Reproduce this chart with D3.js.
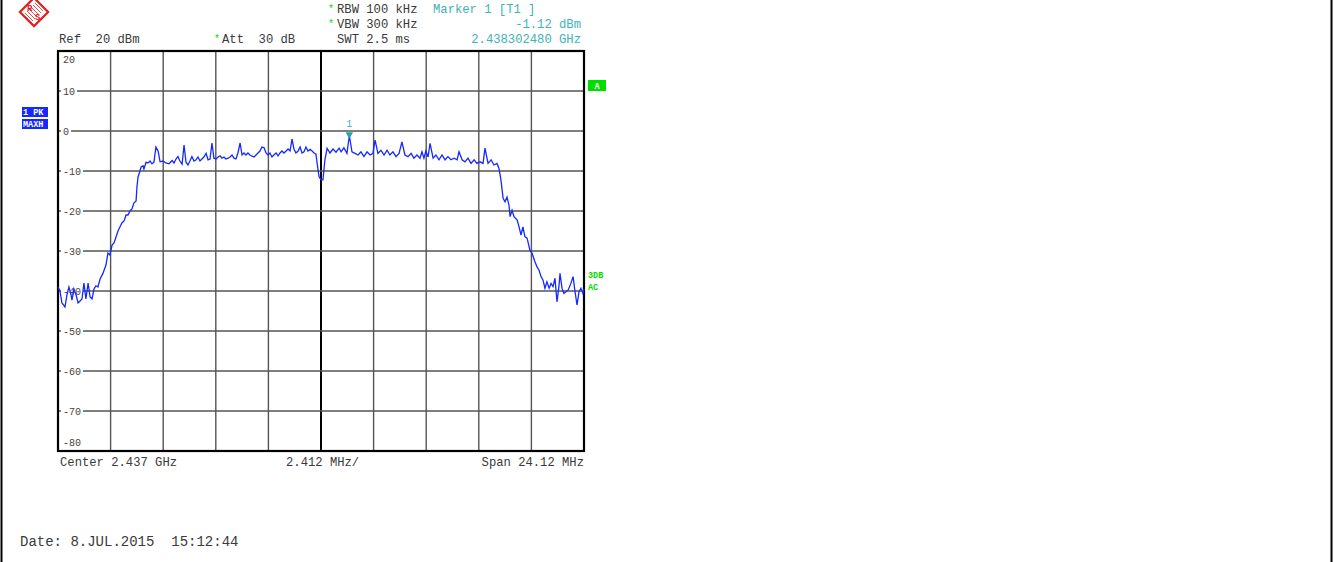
<!DOCTYPE html>
<html><head><meta charset="utf-8">
<script src="https://cdn.jsdelivr.net/npm/d3@7"></script>
<style>
html,body{margin:0;padding:0;background:#fff;}
svg text{font-family:"Liberation Mono","DejaVu Sans Mono",monospace;}
</style></head>
<body>
<svg id="chart" width="1335" height="562"></svg>
<script>
// ---- data ----
const centerGHz = 2.437;
const spanMHz = 24.12;
const divMHz = 2.412;
const levelTicks = [20, 10, 0, -10, -20, -30, -40, -50, -60, -70, -80];
const freqOffsetMHz = [
-12.06,-11.97,-11.88,-11.74,-11.65,-11.56,-11.46,-11.42,-11.33,-11.23,-11.14,-11.05,-10.96,-10.87,-10.78,-10.68,-10.59,-10.50,-10.41,-10.32,-10.23,-10.13,-10.00,-9.86,-9.77,-9.68,-9.58,-9.49,-9.40,-9.31,-9.22,-9.13,-9.03,-8.94,-8.85,-8.76,-8.67,-8.58,-8.48,-8.44,-8.39,-8.30,-8.25,-8.16,-8.12,-8.02,-7.93,-7.84,-7.75,-7.66,-7.57,-7.47,-7.38,-7.25,-7.11,-6.97,-6.83,-6.74,-6.65,-6.56,-6.47,-6.37,-6.28,-6.19,-6.10,-6.01,-5.92,-5.82,-5.73,-5.64,-5.55,-5.46,-5.37,-5.27,-5.18,-5.09,-5.00,-4.91,-4.81,-4.72,-4.63,-4.54,-4.45,-4.36,-4.26,-4.17,-4.08,-3.99,-3.90,-3.81,-3.71,-3.62,-3.53,-3.44,-3.35,-3.26,-3.16,-3.07,-2.98,-2.89,-2.80,-2.71,-2.61,-2.52,-2.43,-2.34,-2.25,-2.16,-2.06,-1.97,-1.88,-1.79,-1.70,-1.60,-1.51,-1.42,-1.33,-1.24,-1.15,-1.05,-0.96,-0.87,-0.78,-0.69,-0.60,-0.50,-0.41,-0.32,-0.23,-0.18,-0.09,0.00,0.09,0.18,0.28,0.41,0.55,0.69,0.83,0.92,1.05,1.19,1.30,1.42,1.56,1.70,1.83,1.97,2.11,2.25,2.38,2.48,2.61,2.75,2.89,3.03,3.16,3.30,3.44,3.58,3.71,3.85,3.99,4.13,4.26,4.40,4.54,4.63,4.72,4.81,4.91,5.00,5.14,5.27,5.41,5.55,5.69,5.82,5.96,6.10,6.24,6.33,6.47,6.60,6.74,6.88,7.02,7.15,7.29,7.43,7.52,7.66,7.80,7.93,8.07,8.16,8.25,8.35,8.44,8.53,8.62,8.67,8.76,8.85,8.99,9.08,9.17,9.26,9.35,9.45,9.58,9.68,9.81,9.90,10.00,10.09,10.18,10.27,10.36,10.46,10.55,10.64,10.73,10.82,10.91,10.96,11.05,11.14,11.23,11.33,11.46,11.56,11.65,11.74,11.83,11.92,12.01,12.06
];
const levelDbm = [
-39,-40,-43,-44,-41,-39,-41,-42.3,-39.5,-41,-43,-42.5,-42,-38,-42,-38,-41.5,-42,-39.5,-38.7,-39,-37,-35.6,-33.5,-30.5,-31,-28.5,-28,-26.5,-25,-24,-23,-22.5,-21,-21,-20,-19.5,-18,-17.5,-14,-11.5,-10,-9,-8.7,-9.5,-7.8,-8,-7.5,-8.2,-7.8,-4,-5,-7.7,-7.5,-8,-8.2,-7.4,-8,-7,-6.4,-7.5,-8.3,-3.5,-7.8,-8.5,-7.5,-6.4,-7.5,-7.2,-6.5,-7.5,-7,-6.5,-5.6,-7.2,-7,-3,-6.8,-7,-6.5,-6.2,-6.8,-6.5,-7,-6.8,-6.5,-6,-6.8,-7,-5.5,-3,-6,-5.5,-6,-5.5,-6,-6.3,-6.5,-6,-5.5,-5,-4,-4.2,-5.5,-6,-5.5,-6.5,-6,-5.5,-6.2,-5.5,-5,-5.5,-5,-4.5,-5,-2,-4.5,-5.5,-5,-4,-5.5,-5.2,-4,-5,-4.6,-5,-5.5,-5.8,-8,-11.4,-12.2,-12.2,-7.2,-4.3,-5.5,-4.5,-5.3,-4.3,-5.2,-4.2,-5.6,-1.12,-5.2,-5.6,-6,-5.2,-6.4,-5.2,-6,-5.6,-2.3,-5.6,-4.8,-6,-4.8,-6,-5.2,-6.4,-5.6,-2.7,-6,-6.4,-5.6,-6.8,-6,-6.8,-5.2,-6.8,-5,-6.5,-3.1,-6.8,-6,-7.2,-6,-7.2,-6.4,-7.2,-6.8,-7.2,-5.2,-7.2,-7.7,-6.8,-8.1,-7.2,-8.1,-7.7,-8.1,-4.3,-8.1,-7.2,-8.5,-8.1,-9.3,-12.2,-16.8,-17.7,-16.5,-18.5,-21.4,-19.8,-21.4,-22.2,-23.9,-26,-24,-26.4,-26.8,-29.8,-30.6,-32.7,-33.9,-34.8,-36.4,-37.3,-39.3,-37.7,-39.3,-38.1,-38.9,-36.8,-42.7,-38.9,-35.6,-39.3,-40.6,-40.2,-39.8,-38.1,-36.4,-40.2,-43.5,-40.2,-39.3,-40.6,-39.5
];
const markerFreqOffsetMHz = 1.30;
const markerLevel = -1.12;
const headerLines = [
  ["RBW 100 kHz", "VBW 300 kHz", "SWT 2.5 ms"],
  ["Marker 1 [T1 ]", "-1.12 dBm", "2.438302480 GHz"]
];

// ---- layout ----
const svg = d3.select("#chart");
const L = 58, R = 584, T = 51, B = 451;
const x = d3.scaleLinear().domain([-spanMHz/2, spanMHz/2]).range([L, R]);
const y = d3.scaleLinear().domain([-80, 20]).range([B, T]);
const gray = "#3a3a3a", teal = "#3cb4b4", green = "#00dd00";
const FS = 12.2;

// page frame lines
svg.append("line").attr("x1",1.5).attr("x2",1.5).attr("y1",0).attr("y2",562).attr("stroke","#000").attr("stroke-width",2);
svg.append("line").attr("x1",1331.5).attr("x2",1331.5).attr("y1",0).attr("y2",562).attr("stroke","#000").attr("stroke-width",2);

// grid
const vTicks = d3.range(0, 11).map(k => -spanMHz/2 + k*divMHz);
svg.append("g").selectAll("line").data(vTicks).join("line")
  .attr("x1", d => x(d)).attr("x2", d => x(d)).attr("y1", T).attr("y2", B)
  .attr("stroke", (d,i) => i === 5 ? "#000" : "#555")
  .attr("stroke-width", (d,i) => i === 5 ? 2 : 1.4);
svg.append("g").selectAll("line").data(levelTicks).join("line")
  .attr("x1", L).attr("x2", R).attr("y1", d => y(d)).attr("y2", d => y(d))
  .attr("stroke", "#555").attr("stroke-width", 1.4);

// level labels
const lab = svg.append("g");
levelTicks.forEach(v => {
  let yy = y(v) + 3.5;
  if (v === 20) yy = y(v) + 12;
  if (v === -80) yy = y(v) - 5;
  const t = lab.append("text").attr("x", 63).attr("y", yy)
    .attr("font-size", 10).attr("fill", "#444").text(v);
  if (v !== 20 && v !== -80) {
    const bb = t.node().getBBox();
    lab.insert("rect", "text").attr("x", bb.x - 2).attr("y", bb.y + 1).attr("width", bb.width + 4)
      .attr("height", bb.height - 2).attr("fill", "#fff");
  }
});

// plot frame
svg.append("rect").attr("x", L).attr("y", T).attr("width", R - L).attr("height", B - T)
  .attr("fill", "none").attr("stroke", "#000").attr("stroke-width", 2.2);

// trace
const pts = freqOffsetMHz.map((f, i) => [f, levelDbm[i]]);
svg.append("path").datum(pts)
  .attr("d", d3.line().x(d => x(d[0])).y(d => y(d[1])))
  .attr("fill", "none").attr("stroke", "#1428ff").attr("stroke-width", 1.3);

// marker
const mx = x(markerFreqOffsetMHz), my = y(markerLevel);
svg.append("path").attr("d", d3.symbol().type(d3.symbolTriangle).size(24)())
  .attr("transform", `translate(${mx},${my - 1}) rotate(180)`).attr("fill", "#20a8a8");
svg.append("text").attr("x", mx).attr("y", my - 8).attr("text-anchor", "middle")
  .attr("font-size", 10).attr("fill", teal).text("1");

// header
const hdr = svg.append("g").attr("font-size", FS);
hdr.append("text").attr("x", 59).attr("y", 43).attr("fill", gray).attr("xml:space","preserve").text("Ref  20 dBm");
hdr.append("text").attr("x", 214).attr("y", 42).attr("fill", green).attr("font-size", 10).text("*");
hdr.append("text").attr("x", 222).attr("y", 43).attr("fill", gray).attr("xml:space","preserve").text("Att  30 dB");
headerLines[0].forEach((s, i) => {
  if (i < 2) hdr.append("text").attr("x", 328).attr("y", 12 + i*15).attr("fill", green).attr("font-size", 10).text("*");
  hdr.append("text").attr("x", 337).attr("y", 13 + i*15).attr("fill", gray).text(s);
});
hdr.append("text").attr("x", 433).attr("y", 13).attr("fill", teal).text(headerLines[1][0]);
hdr.append("text").attr("x", 581).attr("y", 28).attr("text-anchor", "end").attr("fill", teal).text(headerLines[1][1]);
hdr.append("text").attr("x", 581).attr("y", 43).attr("text-anchor", "end").attr("fill", teal).text(headerLines[1][2]);

// left trace badges
const badge = svg.append("g").attr("font-size", 8.5).attr("font-weight", "bold");
badge.append("rect").attr("x", 22).attr("y", 107).attr("width", 26).attr("height", 10).attr("fill", "#1428ff");
badge.append("rect").attr("x", 22).attr("y", 119).attr("width", 26).attr("height", 10).attr("fill", "#1428ff");
badge.append("text").attr("x", 23).attr("y", 115).attr("fill", "#fff").attr("xml:space","preserve").text("1 PK");
badge.append("text").attr("x", 23).attr("y", 127).attr("fill", "#fff").text("MAXH");

// right badges
svg.append("rect").attr("x", 588).attr("y", 80).attr("width", 18).attr("height", 11).attr("fill", green);
svg.append("text").attr("x", 597).attr("y", 89).attr("text-anchor", "middle").attr("font-size", 8.5)
  .attr("font-weight", "bold").attr("fill", "#fff").text("A");
svg.append("text").attr("x", 588).attr("y", 278).attr("font-size", 8.5).attr("font-weight", "bold").attr("fill", green).text("3DB");
svg.append("text").attr("x", 588).attr("y", 290).attr("font-size", 8.5).attr("font-weight", "bold").attr("fill", green).text("AC");

// bottom axis texts
const bot = svg.append("g").attr("font-size", FS).attr("fill", gray);
bot.append("text").attr("x", 60).attr("y", 466).text(`Center ${centerGHz.toFixed(3)} GHz`);
bot.append("text").attr("x", 286).attr("y", 466).text(`${divMHz} MHz/`);
bot.append("text").attr("x", 584).attr("y", 466).attr("text-anchor", "end").text(`Span ${spanMHz} MHz`);
bot.append("text").attr("x", 20).attr("y", 546).attr("font-size", 14).attr("xml:space","preserve").text("Date: 8.JUL.2015  15:12:44");

// R&S logo
const logo = svg.append("g").attr("transform", "translate(34,12)");
logo.append("rect").attr("x", -10).attr("y", -10).attr("width", 20).attr("height", 20)
  .attr("transform", "rotate(45)").attr("fill", "#fff").attr("stroke", "#e02020").attr("stroke-width", 2.2);
d3.range(-7, 8, 2).forEach(k => {
  logo.append("line").attr("x1", k - 4).attr("y1", -k - 4).attr("x2", k + 4).attr("y2", -k + 4)
    .attr("stroke", "#e02020").attr("stroke-width", 0.8);
});
logo.append("text").attr("x", -7).attr("y", -1).attr("font-size", 9).attr("font-weight", "bold").attr("fill", "#e02020").text("R");
logo.append("text").attr("x", 1).attr("y", 8).attr("font-size", 9).attr("font-weight", "bold").attr("fill", "#e02020").text("S");
</script>
</body></html>
